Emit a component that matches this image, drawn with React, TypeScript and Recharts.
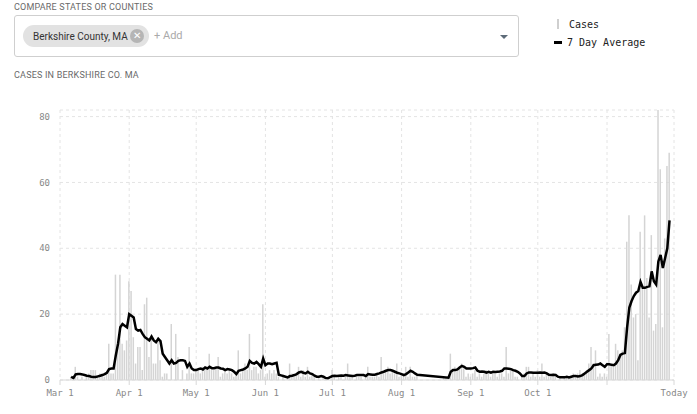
import { Bar, CartesianGrid, ComposedChart, Line, XAxis, YAxis } from "recharts";

// daily new cases, one array per month (null = no report)
const casesMar = [null, null, null, null, null, 1, 0, 4, 1, 0, 1, 0, 1, 2, 3, 3, 3, 1, 2, 2, 1, 2, 11, 2, 2, 32, 10, 32, 11, 9, 12];
const casesApr = [30, 27, 13, 5, 10, 10, 3, 23, 25, 7, 13, 5, 5, 12, 6, 1, 2, 2, 0, 17, 0, 14, 7, 0, 3, 0, 2, 10, 2, 2];
const casesMay = [3, 3, 2, 4, 3, 3, 8, 3, 3, 4, 7, 1, 2, 3, 2, 3, 2, 1, 2, 9, 2, 3, 5, 3, 14, 3, 4, 4, 2, 3, 23];
const casesJun = [1, 2, 3, 2, 3, 2, 1, 0, 1, 0, 1, 5, 2, 1, 2, 4, 1, 3, 1, 4, 1, 2, 1, 0, 1, 0, 1, 0, 1, 0];
const casesJul = [3, 1, 0, 1, 1, 0, 1, 5, 1, 1, 0, 1, 1, 1, 0, 1, 4, 1, 1, 1, 2, 1, 7, 2, 3, 4, 2, 3, 2, 5, 1];
const casesAug = [2, 2, 4, 1, 4, 1, 1, 2, null, null, null, null, null, null, null, null, null, null, null, 1, 1, 1, 8, 3, 4, 3, 4, 5, 4, 1, 2];
const casesSep = [1, 2, 3, 1, 2, 1, 2, 3, 2, 1, 2, 2, 1, 2, 2, 1, 10, 2, 3, 3, 1, 1, 0, 1, 2, 4, 4, 1, 2, 1];
const casesOct = [3, 1, 5, 1, 2, 2, 1, 2, 1, 0, 1, 0, 1, 1, 1, 1, 2, 1, 2, 3, 2, 2, 3, 5, 10, 5, 9, 1, 2, 1, 2];
const casesNov = [1, 14, 5, 4, 11, 9, 8, 9, 16, 42, 50, 29, 19, 20, 6, 45, 28, 50, 31, 19, 44, 15, 17, 82, 64, 16, 43, 65, 69];

// 7 day average as drawn
const avgMar = [null, null, null, null, null, 1, 0.6, 1.7, 1.8, 1.8, 1.7, 1.5, 1.3, 1.2, 1, 0.9, 0.9, 1.1, 1.3, 1.5, 1.8, 2.2, 3.3, 3.5, 3.5, 7.5, 11, 16, 17, 16.5, 16];
const avgApr = [20, 19.5, 19, 15.5, 15, 15.2, 14, 13, 12.5, 12, 13.2, 12, 11.5, 12.5, 11.8, 8, 7, 6, 5, 6, 5, 5.2, 5.8, 6, 6, 5.8, 4, 5, 3.5, 3];
const avgMay = [3, 3.3, 3.5, 3.2, 3.8, 3.5, 4, 3.6, 3.6, 3.8, 3.8, 3.5, 3.4, 3, 3.3, 3.2, 3, 2.5, 1.8, 2.8, 3, 3.2, 3.5, 4, 5.8, 5.2, 5, 5.5, 4.8, 4, 6.5];
const avgJun = [4.5, 5, 5, 4.8, 5, 5.2, 1.6, 1.4, 1.2, 1, 0.8, 1.2, 1.3, 1.5, 1.8, 2.3, 2.5, 2.2, 2, 2.5, 2, 1.8, 1.3, 1, 1, 1.2, 1, 0.6, 0.5, 0.9];
const avgJul = [1.2, 1.3, 1.2, 1.3, 1.4, 1.3, 1.5, 1.4, 1.3, 1.2, 1.3, 1.5, 1.5, 1.5, 1.5, 1.2, 1.8, 1.7, 1.6, 1.6, 1.8, 2, 2.3, 2.5, 2.8, 3, 3, 2.8, 2.5, 2.2, 2];
const avgAug = [1.8, 1.5, 1.8, 2.3, 2.8, 2.5, 2, 1.6, null, null, null, null, null, null, null, null, null, null, null, null, null, 0.7, 2.5, 3, 3, 3.2, 3.8, 4.3, 4, 3.5, 3.5];
const avgSep = [3.5, 3.6, 3.8, 2.8, 2.5, 2.6, 2.5, 2.2, 2.5, 2.2, 2.5, 2.4, 2.5, 2.6, 2.8, 3.5, 3.5, 3.4, 3.3, 3, 2.8, 2.5, 2, 1.2, 1.2, 2, 2.3, 2.3, 2.2, 2.2];
const avgOct = [2.2, 2.3, 2.2, 2.3, 2, 1.6, 1.5, 1.6, 1.5, 1, 0.8, 0.8, 0.8, 1, 0.8, 1, 1.2, 1.2, 1.1, 1.2, 1.5, 2, 2.5, 3, 3.5, 4.5, 4.6, 4.7, 5, 4.5, 4];
const avgNov = [4.8, 4.8, 4.6, 4.5, 5, 6, 7.6, 8, 8.2, 16, 22, 24, 25.5, 26.5, 27, 29.8, 28, 28, 28.3, 28.5, 33, 30, 29, 36, 38, 34, 37, 40, 48.5];

// x ticks: days since Mar 1
const tickDays = [0, 31, 61, 92, 122, 153, 184, 214, 245, 275];
const tickLabels = ["Mar 1", "Apr 1", "May 1", "Jun 1", "Jul 1", "Aug 1", "Sep 1", "Oct 1", "", "Today"];
const yTicks = [0, 20, 40, 60, 80];

const cases = [...casesMar, ...casesApr, ...casesMay, ...casesJun, ...casesJul, ...casesAug, ...casesSep, ...casesOct, ...casesNov];
const avg = [...avgMar, ...avgApr, ...avgMay, ...avgJun, ...avgJul, ...avgAug, ...avgSep, ...avgOct, ...avgNov];
const data = cases.map((c, i) => ({ day: i, cases: c, avg: avg[i] }));

const mono = "'DejaVu Sans Mono', monospace";
const sans = "Roboto, 'Noto Sans', sans-serif";

export default function App() {
  return (
    <div style={{ position: "absolute", left: 0, top: 0, width: 697, height: 414, background: "#fff" }}>
      <div style={{ position: "absolute", left: 14, top: 2, fontFamily: sans, fontSize: 9, color: "#6a6a6a", letterSpacing: 0.2 }}>
        COMPARE STATES OR COUNTIES
      </div>
      <div
        style={{
          position: "absolute",
          left: 14,
          top: 15,
          width: 503,
          height: 40,
          border: "1px solid #cfcfcf",
          borderRadius: 3,
        }}
      >
        <div
          style={{
            position: "absolute",
            left: 8,
            top: 9,
            width: 126,
            height: 22,
            borderRadius: 11,
            background: "#e2e2e2",
          }}
        >
          <span style={{ position: "absolute", left: 10, top: 6, fontFamily: sans, fontSize: 10, color: "#333" }}>
            Berkshire County, MA
          </span>
          <span
            style={{
              position: "absolute",
              left: 107,
              top: 4,
              width: 14,
              height: 14,
              borderRadius: 7,
              background: "#b5b5b5",
              color: "#fff",
              fontFamily: sans,
              fontSize: 10,
              lineHeight: "14px",
              textAlign: "center",
            }}
          >
            ✕
          </span>
        </div>
        <span style={{ position: "absolute", left: 139, top: 13, fontFamily: sans, fontSize: 11, color: "#aaa" }}>
          + Add
        </span>
        <div
          style={{
            position: "absolute",
            left: 485,
            top: 19,
            width: 0,
            height: 0,
            borderLeft: "4px solid transparent",
            borderRight: "4px solid transparent",
            borderTop: "4px solid #5d6b78",
          }}
        />
      </div>

      <div style={{ position: "absolute", left: 557, top: 19, width: 2, height: 10, background: "#cfcfcf" }} />
      <div style={{ position: "absolute", left: 569, top: 19, fontFamily: mono, fontSize: 10, color: "#222" }}>Cases</div>
      <div style={{ position: "absolute", left: 554, top: 41, width: 8, height: 3, background: "#000" }} />
      <div style={{ position: "absolute", left: 567, top: 37, fontFamily: mono, fontSize: 10, color: "#222" }}>
        7 Day Average
      </div>

      <div style={{ position: "absolute", left: 14, top: 70, fontFamily: sans, fontSize: 9, color: "#6a6a6a", letterSpacing: 0.2 }}>
        CASES IN BERKSHIRE CO. MA
      </div>

      <div style={{ position: "absolute", left: 0, top: 100 }}>
        <ComposedChart width={697} height={300} data={data} margin={{ top: 10, right: 23, bottom: 0, left: 10 }}>
          <CartesianGrid strokeDasharray="3 3" stroke="#e4e4e4" />
          <XAxis
            dataKey="day"
            type="number"
            domain={[0, 275]}
            ticks={tickDays}
            interval={0}
            tickFormatter={(d: number) => tickLabels[tickDays.indexOf(d)] ?? ""}
            tick={{ fontSize: 9, fill: "#888", fontFamily: mono }}
            tickSize={5}
            tickMargin={5}
            stroke="#d8d8d8"
            height={20}
          />
          <YAxis
            domain={[0, 82]}
            ticks={yTicks}
            axisLine={false}
            tickLine={false}
            width={50}
            tickMargin={4}
            tick={{ fontSize: 9, fill: "#888", fontFamily: mono }}
          />
          <Bar dataKey="cases" fill="#d4d4d4" barSize={1.5} isAnimationActive={false} />
          <Line
            dataKey="avg"
            type="linear"
            stroke="#000"
            strokeWidth={2.5}
            dot={false}
            connectNulls
            isAnimationActive={false}
          />
        </ComposedChart>
      </div>
    </div>
  );
}
